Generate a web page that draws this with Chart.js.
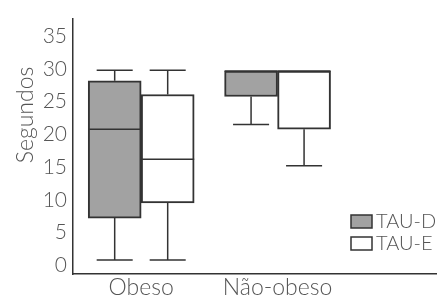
<!DOCTYPE html>
<html>
<head>
<meta charset="utf-8">
<script src="https://cdn.jsdelivr.net/npm/chart.js@4.4.1/dist/chart.umd.min.js"></script>
<style>
  html, body { margin: 0; padding: 0; background: #fff; }
  #wrap { width: 437px; height: 297px; position: relative; }
</style>
</head>
<body>
<div id="wrap"><canvas id="chart-box"></canvas></div>
<script>
var groups = ['Obeso', 'Não-obeso'];
var groupPos = [1, 2];
var yTicks = [0, 5, 10, 15, 20, 25, 30, 35];

// TAU-D (grey boxes)
var dMin = [0.8, 21.5];
var dQ1 = [7.2, 25.8];
var dMed = [20.8, 29.7];
var dQ3 = [28.2, 29.7];
var dMax = [29.8, 29.7];

// TAU-E (white boxes)
var eMin = [0.8, 15.2];
var eQ1 = [9.5, 20.8];
var eMed = [16.2, 29.7];
var eQ3 = [26.1, 29.7];
var eMax = [29.8, 29.7];

(function () {
  var textColor = '#555555';
  var lineColor = '#333333';
  var fontFamily = 'Lato, "Open Sans", sans-serif';
  var fontWeight = '300';

  var stats = [
    { min: dMin, q1: dQ1, med: dMed, q3: dQ3, max: dMax },
    { min: eMin, q1: eQ1, med: eMed, q3: eQ3, max: eMax },
  ];

  function boxData(q1, q3) {
    return groupPos.map(function (x, j) {
      return { x: x, y: [q1[j], q3[j]] };
    });
  }

  // whiskers + median lines, drawn from the bar elements and the y scale
  var whiskerPlugin = {
    id: 'whiskers',
    afterDatasetsDraw: function (chart) {
      var ctx = chart.ctx;
      var y = chart.scales.y;
      ctx.save();
      ctx.strokeStyle = lineColor;
      ctx.lineWidth = 1.5;
      stats.forEach(function (s, i) {
        var meta = chart.getDatasetMeta(i);
        meta.data.forEach(function (bar, j) {
          var cx = bar.x;
          var w = bar.width;
          var cap = w * 0.34;
          var pMed = y.getPixelForValue(s.med[j]);
          var pQ1 = y.getPixelForValue(s.q1[j]);
          var pQ3 = y.getPixelForValue(s.q3[j]);
          var pMin = y.getPixelForValue(s.min[j]);
          var pMax = y.getPixelForValue(s.max[j]);
          ctx.beginPath();
          ctx.moveTo(cx - w / 2, pMed);
          ctx.lineTo(cx + w / 2, pMed);
          if (s.max[j] > s.q3[j]) {
            ctx.moveTo(cx, pQ3);
            ctx.lineTo(cx, pMax);
            ctx.moveTo(cx - cap, pMax);
            ctx.lineTo(cx + cap, pMax);
          }
          if (s.min[j] < s.q1[j]) {
            ctx.moveTo(cx, pQ1);
            ctx.lineTo(cx, pMin);
            ctx.moveTo(cx - cap, pMin);
            ctx.lineTo(cx + cap, pMin);
          }
          ctx.stroke();
        });
      });
      ctx.restore();
    },
  };

  // y title and legend placed like the original figure
  var labelPlugin = {
    id: 'labels',
    afterDraw: function (chart) {
      var ctx = chart.ctx;
      ctx.save();
      ctx.fillStyle = textColor;
      ctx.font = fontWeight + ' 23px ' + fontFamily;
      ctx.textAlign = 'center';
      ctx.textBaseline = 'middle';
      ctx.translate(26, 115);
      ctx.rotate(-Math.PI / 2);
      ctx.fillText('Segundos', 0, 0);
      ctx.restore();

      ctx.save();
      ctx.font = fontWeight + ' 20px ' + fontFamily;
      ctx.textBaseline = 'middle';
      ctx.textAlign = 'left';
      chart.data.datasets.forEach(function (ds, i) {
        var top = 215 + i * 22;
        ctx.fillStyle = ds.backgroundColor;
        ctx.fillRect(351, top, 21, 13);
        ctx.strokeStyle = lineColor;
        ctx.lineWidth = 1.5;
        ctx.strokeRect(351, top, 21, 13);
        ctx.fillStyle = textColor;
        ctx.fillText(ds.label, 376, top + 7);
      });
      ctx.restore();
    },
  };

  function init() {
    var el = document.getElementById('chart-box');
    if (!el || typeof Chart === 'undefined') return;

    new Chart(el, {
      type: 'bar',
      data: {
        datasets: [
          {
            label: 'TAU-D',
            data: boxData(dQ1, dQ3),
            backgroundColor: '#a2a2a2',
            borderColor: lineColor,
            borderWidth: 2,
            borderSkipped: false,
          },
          {
            label: 'TAU-E',
            data: boxData(eQ1, eQ3),
            backgroundColor: '#ffffff',
            borderColor: lineColor,
            borderWidth: 2,
            borderSkipped: false,
          },
        ],
      },
      options: {
        responsive: true,
        maintainAspectRatio: false,
        animation: false,
        barThickness: 53,
        layout: { padding: { top: 15, left: 0, right: 0, bottom: 0 } },
        plugins: { legend: { display: false }, tooltip: { enabled: false } },
        scales: {
          x: {
            type: 'linear',
            min: 0.5,
            max: 3.169,
            offset: false,
            grid: { display: false, drawTicks: false, offset: false },
            border: { display: true, color: lineColor, width: 1.5 },
            afterBuildTicks: function (scale) {
              scale.ticks = groupPos.map(function (v) {
                return { value: v };
              });
            },
            afterFit: function (scale) {
              scale.height = 23;
            },
            ticks: {
              color: textColor,
              font: { family: fontFamily, size: 23, weight: fontWeight },
              padding: 0,
              autoSkip: false,
              maxRotation: 0,
              callback: function (v, i) {
                return groups[i];
              },
            },
          },
          y: {
            min: -1.36,
            max: 37.72,
            grid: { display: false, drawTicks: false },
            border: { display: true, color: lineColor, width: 1.5 },
            afterBuildTicks: function (scale) {
              scale.ticks = yTicks.map(function (v) {
                return { value: v };
              });
            },
            afterFit: function (scale) {
              scale.width = 73;
            },
            ticks: {
              color: textColor,
              font: { family: fontFamily, size: 21, weight: fontWeight },
              padding: 6,
            },
          },
        },
      },
      plugins: [whiskerPlugin, labelPlugin],
    });
  }

  if (document.readyState === 'loading') {
    document.addEventListener('DOMContentLoaded', init);
  } else {
    init();
  }
})();
</script>
</body>
</html>
